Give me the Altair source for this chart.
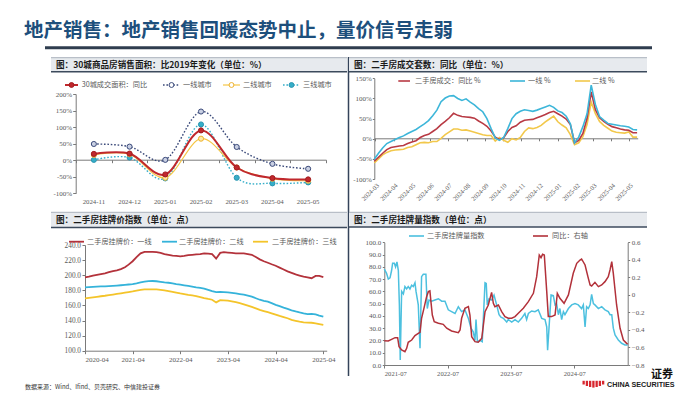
import altair as alt
import pandas as pd

# ---------------- texts ----------------
TITLE = "地产销售：地产销售回暖态势中止，量价信号走弱"
HEAD_TL = "图：30城商品房销售面积：比2019年变化（单位：%）"
HEAD_TR = "图：二手房成交套数：同比（单位：%）"
HEAD_BL = "图：二手房挂牌价指数（单位：点）"
HEAD_BR = "图：二手房挂牌量指数（单位：点）"
SOURCE = "数据来源：Wind、Ifind、贝壳研究、中信建投证券"

# ---------------- panel TL: 30-city sales area vs 2019 (%) ----------------
tl_months = ["2024-11", "2024-12", "2025-01", "2025-02", "2025-03", "2025-04", "2025-05"]
tl_30 = [19, 20, -43, 90, -22, -54, -58]
tl_t1 = [49, 41, 1, 147, 40, -11, -26]
tl_t2 = [16, 18, -53, 65, -22, -56, -62]
tl_t3 = [1, 8, -55, 108, -53, -70, -67]
tl_names = ["30城成交面积：同比", "一线城市", "二线城市", "三线城市"]

# ---------------- panel TR: second-hand deals YoY (%) weekly ----------------
tr_start = "2024-02-28"
tr_all = [-56, -46, -36, -27, -22, -20, -18, -17, -12, -8, -5, 3, 8, 11, 18, 25, 35, 43, 52, 63,
          58, 55, 54, 53, 51, 44, 38, 31, 19, 4, -2, 2, 18, 28, 32, 41, 46, 47, 48, 52,
          56, 60, 65, 68, 62, 56, 49, 35, -10, -4, 13, 50, 116, 72, 52, 43, 36, 30, 27, 24,
          22, 21, 15, 15]
tr_t1 = [-51, -36, -23, -12, -7, -2, 3, 7, 13, 18, 23, 30, 37, 45, 57, 71, 92, 101, 106, 107,
         100, 95, 99, 91, 84, 75, 67, 50, 25, 2, -4, 3, 25, 50, 62, 68, 72, 70, 68, 71,
         75, 79, 83, 78, 69, 65, 56, 37, -10, 4, 30, 62, 133, 85, 55, 46, 38, 36, 34, 32,
         31, 29, 23, 22]
tr_t2 = [-60, -50, -40, -34, -30, -28, -27, -26, -22, -20, -15, -10, -9, -10, -7, -7, 1, 10, 17, 24,
         24, 21, 22, 19, 16, 13, 10, 8, 8, -6, 3, -4, -9, 0, -3, 3, 18, 27, 25, 28,
         33, 42, 49, 56, 42, 34, 27, 10, -15, -10, 5, 35, 91, 62, 43, 33, 26, 19, 16, 15,
         14, 17, 4, 4]
tr_names = ["二手房成交：同比 %", "一线 %", "二线 %"]

# ---------------- panel BL: listing price index, monthly ----------------
bl_start = "2020-04-01"
bl_t1 = [197, 198, 199.5, 200.5, 201.5, 202.5, 204, 205.5, 206.5,
         208, 210.5, 214, 218.5, 224, 229, 231, 231, 231, 230.5, 229.5, 228,
         227, 226, 225.5, 225, 225.5, 226.5, 227, 227.5, 228, 229, 228.5, 228,
         222, 229.5, 230.5, 230, 229.5, 229, 229, 229, 228, 227, 224, 221,
         218.5, 216.5, 214.5, 212.5, 210, 207.5, 205, 203, 201, 199.5, 198, 197,
         196, 199, 199, 197.5]
bl_t2 = [184, 184.3, 184.6, 184.9, 185.1, 185.3, 185.5, 185.8, 186.2,
         186.7, 187.2, 187.7, 188.3, 189.3, 190.5, 191.5, 192.2, 192.3, 192, 191.3, 190.5,
         190, 189.3, 188.3, 187.4, 186.6, 185.8, 185, 184, 183.2, 182.3, 180.6, 179,
         177.5, 178, 177.6, 177.2, 176.5, 175.8, 175, 174.2, 173, 171.5, 169.5, 167.5,
         166, 165, 163, 160.8, 159, 157, 155.3, 153.5, 152, 150.7, 149.5, 148.5,
         148.8, 148, 146.5, 145]
bl_t3 = [169.3, 170, 170.7, 171.4, 172.1, 172.8, 173.6, 174.4, 175.2,
         176, 176.9, 177.7, 178.6, 179.6, 180.5, 181.1, 181.3, 181.3, 181.2, 180.7, 180,
         179, 177.8, 176.8, 175.8, 175, 174, 173.2, 172.3, 171, 169.7, 168.5, 167.5,
         164, 167, 166.6, 166.2, 165.2, 164.2, 163, 161.5, 159.8, 158, 156, 154,
         152.5, 151, 149.5, 147.8, 146, 144.5, 143, 140.8, 139.6, 138.5, 137.6, 137.2,
         137, 136.3, 135.3, 134.2]
bl_names = ["二手房挂牌价：一线", "二手房挂牌价：二线", "二手房挂牌价：三线"]

# ---------------- panel BR: listing volume index + YoY (right axis) ----------------
br_base = "2021-07-01"
br_idx_days = [0, 13, 23, 33, 42, 48, 58, 65, 73, 81, 87, 92, 100, 110, 119, 129, 138, 148, 158, 167,
               177, 183, 196, 206, 215, 225, 240, 248, 258, 273, 292, 312, 331, 350, 369, 388, 408, 427, 446, 465,
               485, 500, 513, 523, 529, 537, 552, 565, 575, 581, 588, 594, 604, 619, 633, 648, 662, 673, 687, 706,
               715, 735, 754, 773, 792, 811, 821, 831, 850, 869, 888, 908, 927, 937, 942, 950, 962, 975, 985, 994,
               1004, 1013, 1023, 1033, 1042, 1062, 1081, 1100, 1119, 1138, 1148, 1158, 1167, 1177, 1187, 1196,
               1206, 1215, 1235, 1254, 1273, 1292, 1302, 1312, 1321, 1331, 1350, 1369, 1388, 1404]
br_idx_vals = [78.2, 74.7, 70, 71, 77, 83, 83, 80, 84, 77, 49, 4, 60, 58, 64, 62, 64, 62, 65, 64,
               67, 60, 49, 13.6, 72, 74, 74, 46, 53, 52, 53, 54, 52, 52, 45, 43.5, 42, 47.5, 43.5, 45,
               38, 30, 27, 20, 37, 19, 20, 19, 49, 67, 66.5, 49, 54, 53, 57, 49, 41, 39, 38, 35,
               37, 35, 37, 35, 38, 42, 37, 42, 44, 43.5, 45, 38, 37, 31, 12, 30, 57, 56.5, 49, 50,
               41, 46, 37, 43.5, 41, 46, 49, 50, 49, 46, 49, 31, 47.5, 46, 49, 57.6,
               50, 49, 46, 47.5, 45, 43.5, 41, 41, 30, 24.5, 20.4, 17.7, 16.3, 16.3]
br_yoy_days = [0, 23, 42, 62, 77, 85, 100, 119, 129, 138, 158, 177, 196, 206, 215, 231, 244, 254, 263, 269,
               277, 288, 312, 340, 360, 388, 427, 437, 446, 465, 485, 494, 504, 523, 542, 562, 581, 600, 619, 629,
               638, 658, 677, 696, 715, 735, 754, 773, 802, 831, 860, 879, 894, 904, 913, 923, 937, 946, 965, 985,
               998, 1013, 1037, 1062, 1090, 1110, 1129, 1138, 1158, 1177, 1187, 1196, 1215, 1235, 1254, 1273,
               1292, 1302, 1312, 1321, 1340, 1360, 1379, 1398, 1404]
br_yoy_vals = [-0.522, -0.526, -0.507, -0.488, -0.488, -0.59, -0.629, -0.648, -0.61, -0.541,
               -0.515, -0.465, -0.44, -0.427, -0.267, -0.134, -0.02, 0.037, 0.045, -0.077,
               -0.23, -0.305, -0.324, -0.336, -0.381, -0.412, -0.431, -0.4, -0.267, -0.153,
               -0.134, -0.23, -0.477, -0.534, -0.541, -0.496, -0.191, -0.115, 0.029, -0.096,
               -0.134, -0.115, -0.191, -0.248, -0.267, -0.267, -0.248, -0.21, -0.153, -0.077,
               0.018, 0.208, 0.455, 0.425, 0.463, 0.455, 0.037, -0.248, -0.248, -0.229,
               0.018, -0.039, -0.096, 0.0, 0.246, 0.36, 0.398, 0.41, 0.341, 0.189,
               0.113, 0.102, 0.143, 0.094, 0.113, 0.151, 0.208, 0.284, 0.379, 0.246,
               -0.115, -0.381, -0.515, -0.553, -0.564]
br_names = ["二手房挂牌量指数", "同比：右轴"]

# ---------------- frames ----------------
tl_df = pd.DataFrame({"month": tl_months, "c30": tl_30, "t1": tl_t1, "t2": tl_t2, "t3": tl_t3})
tr_df = pd.DataFrame({"date": pd.date_range(tr_start, periods=len(tr_all), freq="7D"),
                      "all": tr_all, "t1": tr_t1, "t2": tr_t2})
bl_df = pd.DataFrame({"date": pd.date_range(bl_start, periods=len(bl_t1), freq="MS"),
                      "t1": bl_t1, "t2": bl_t2, "t3": bl_t3})
br_idx = pd.DataFrame({"date": pd.Timestamp(br_base) + pd.to_timedelta(br_idx_days, unit="D"), "v": br_idx_vals})
br_yoy = pd.DataFrame({"date": pd.Timestamp(br_base) + pd.to_timedelta(br_yoy_days, unit="D"), "v": br_yoy_vals})
one = pd.DataFrame({"k": [0]})

# ---------------- styling ----------------
W, H = 684, 386
OFF = 8
CJK = "Noto Sans CJK SC"
SERIF = "Liberation Serif"
GRAY = "#595959"
AXC = "#7a7a7a"


def px(v):
    return v - OFF


def axis(**kw):
    base = dict(grid=False, title=None, labelFont=SERIF, labelFontSize=7, labelColor=GRAY,
                domainColor=AXC, tickColor=AXC, domainWidth=1, tickWidth=1, tickSize=3, labelPadding=1)
    base.update(kw)
    return alt.Axis(**base)


def text(x, y, s, size=7.2, color=GRAY, weight="normal", align="left", font=CJK):
    return alt.Chart(one).mark_text(text=s, fontSize=size, color=color, fontWeight=weight, align=align,
                                    baseline="middle", font=font).encode(x=alt.value(px(x)), y=alt.value(px(y)))


def hrule(x1, x2, y, color, w=1.0, dash=None):
    kw = dict(color=color, strokeWidth=w)
    if dash:
        kw["strokeDash"] = dash
    return alt.Chart(one).mark_rule(**kw).encode(x=alt.value(px(x1)), x2=alt.value(px(x2)), y=alt.value(px(y)))


def vrule(x, y1, y2, color, w=1.0):
    return alt.Chart(one).mark_rule(color=color, strokeWidth=w).encode(
        x=alt.value(px(x)), y=alt.value(px(y1)), y2=alt.value(px(y2)))


def box(x1, y1, x2, y2, color):
    return alt.Chart(one).mark_rect(color=color).encode(
        x=alt.value(px(x1)), x2=alt.value(px(x2)), y=alt.value(px(y1)), y2=alt.value(px(y2)))


def dot(x, y, fill, stroke, size=24):
    return alt.Chart(one).mark_point(shape="circle", filled=True, fill=fill, stroke=stroke, strokeWidth=1,
                                     size=size, opacity=1).encode(x=alt.value(px(x)), y=alt.value(px(y)))


def header(x1, x2, y1, y2, s):
    return [box(x1, y1, x2, y2, "#e7eaee"),
            hrule(x1, x2, y1, "#aab2bc", 1),
            hrule(x1, x2, y2, "#3c4a5c", 1.6),
            text(x1 + 5, (y1 + y2) / 2 + 0.3, s, size=8.6, color="#1a1a1a", weight="bold")]


def dt(y, m, d=1):
    return alt.DateTime(year=y, month=m, date=d)


layers = []

# ---------------- title ----------------
layers.append(text(24, 31, TITLE, size=19.5, color="#1d4f7c", weight="bold"))
layers.append(hrule(45, 652, 47.7, "#2f3d4f", 3))
layers.append(vrule(348.5, 57, 376, "#34435a", 1.5))

# ================= TL =================
layers += header(51, 347, 57.7, 71.7, HEAD_TL)
RED1, NAVY, YEL1, TEAL = "#c0282d", "#3b4a7a", "#f5c646", "#35aec9"
tl_x = alt.X("month:N", sort=tl_months,
             scale=alt.Scale(type="point", domain=tl_months, range=[px(76), px(326)], padding=0.5), axis=None)


def tl_y(field, ax=None):
    return alt.Y(f"{field}:Q", scale=alt.Scale(domain=[-100, 200], range=[px(193.3), px(94)], nice=False, zero=False),
                 axis=ax)


tl_band = alt.Scale(type="band", domain=tl_months, range=[px(76), px(326)], paddingInner=0, paddingOuter=0)
layers.append(alt.Chart(tl_df).mark_point(opacity=0).encode(
    x=alt.X("month:N", sort=tl_months, scale=tl_band,
            axis=axis(orient="bottom", offset=px(159.7) - H, labels=False, tickBand="extent")),
    y=alt.value(0)))
layers.append(alt.Chart(tl_df).mark_point(opacity=0).encode(
    x=alt.X("month:N", sort=tl_months, scale=tl_band,
            axis=axis(orient="bottom", offset=px(193.3) - H, domain=False, ticks=False, labelPadding=5,
                      labelFontSize=6.8, labelAngle=0)),
    y=alt.value(0)))

tl_series = [
    ("t1", NAVY, [1.6, 1.8], 1.4, "#c9d0e3", NAVY),
    ("t3", TEAL, [1.6, 1.8], 1.4, TEAL, "#2a95b0"),
    ("t2", YEL1, None, 1.2, "#fde9a6", "#eeb22f"),
    ("c30", RED1, None, 2.0, RED1, "#a11d22"),
]
first = True
for field, col, dash, w, fill, stroke in tl_series:
    kw = dict(color=col, strokeWidth=w, interpolate="cardinal")
    if dash:
        kw["strokeDash"] = dash
    ax = axis(orient="left", offset=-px(75.7), values=list(range(-100, 201, 50)),
              labelExpr="datum.value + '%'") if first else None
    layers.append(alt.Chart(tl_df).mark_line(**kw).encode(x=tl_x, y=tl_y(field, ax)))
    layers.append(alt.Chart(tl_df).mark_point(shape="circle", filled=True, fill=fill, stroke=stroke, strokeWidth=1,
                                              size=26, opacity=1).encode(x=tl_x, y=tl_y(field)))
    first = False

# TL legend
LY = 85
layers += [hrule(65, 78, LY, RED1, 2), dot(71.5, LY, RED1, "#a11d22"), text(81.7, LY, tl_names[0]),
           hrule(163, 180, LY, NAVY, 1.4, [1.6, 1.8]), dot(171.5, LY, "white", NAVY), text(183, LY, tl_names[1]),
           hrule(223, 240, LY, YEL1, 1.2), dot(231.5, LY, "white", "#eeb22f"), text(243, LY, tl_names[2]),
           hrule(283, 300, LY, TEAL, 1.4, [1.6, 1.8]), dot(291.5, LY, TEAL, "#2a95b0"), text(303, LY, tl_names[3])]

# ================= TR =================
layers += header(349, 647, 57.7, 71.7, HEAD_TR)
RED2, CYAN2, YEL2 = "#b83a44", "#3db6d9", "#f2c84b"
tr_scale_x = alt.Scale(domain=[dt(2024, 2, 28), dt(2025, 5, 15)], range=[px(374.3), px(637.7)])
tr_months = [dt(2024, m) for m in range(3, 13)] + [dt(2025, m) for m in range(1, 6)]
tr_x = alt.X("date:T", scale=tr_scale_x, axis=None)


def tr_y(field, ax=None):
    return alt.Y(f"{field}:Q", scale=alt.Scale(domain=[-100, 150], range=[px(179), px(78.3)], nice=False, zero=False),
                 axis=ax)


layers.append(alt.Chart(tr_df).mark_point(opacity=0).encode(
    x=alt.X("date:T", scale=tr_scale_x,
            axis=axis(orient="bottom", offset=px(138.3) - H, labels=False, values=tr_months, tickSize=2.5)),
    y=alt.value(0)))
layers.append(alt.Chart(tr_df).mark_point(opacity=0).encode(
    x=alt.X("date:T", scale=tr_scale_x,
            axis=axis(orient="bottom", offset=px(180) - H, domain=False, ticks=False, values=tr_months,
                      format="%Y-%m", labelAngle=315, labelFontSize=6.5, labelPadding=2,
                      labelOverlap=False, labelFlush=False)),
    y=alt.value(0)))
for i, (field, col) in enumerate([("t2", YEL2), ("all", RED2), ("t1", CYAN2)]):
    ax = axis(orient="left", offset=-px(374.3), values=list(range(-100, 151, 50)), tickSize=2,
              labelExpr="datum.value + '%'") if i == 0 else None
    layers.append(alt.Chart(tr_df).mark_line(color=col, strokeWidth=1.6).encode(x=tr_x, y=tr_y(field, ax)))

LY = 81
layers += [hrule(398.3, 410, LY, RED2, 1.6), text(415, LY, tr_names[0]),
           hrule(510, 525, LY, CYAN2, 1.6), text(528, LY, tr_names[1]),
           hrule(575, 590, LY, YEL2, 1.6), text(592, LY, tr_names[2])]

# ================= BL =================
layers += header(51, 347, 212.3, 227.5, HEAD_BL)
RED3, CYAN3, YEL3 = "#b3323b", "#35b3da", "#f4c42a"
bl_scale_x = alt.Scale(domain=[dt(2020, 4, 1), dt(2025, 4, 27)], range=[px(85), px(326.7)])
bl_years = [dt(y, 4) for y in range(2020, 2026)]
bl_x = alt.X("date:T", scale=bl_scale_x,
             axis=axis(orient="bottom", offset=px(350.7) - H, values=bl_years, format="%Y-%m", labelPadding=2,
                       labelOverlap=False))


def bl_y(field, ax=None):
    return alt.Y(f"{field}:Q", scale=alt.Scale(domain=[100, 240], range=[px(350.7), px(245)], nice=False, zero=False),
                 axis=ax)


for i, (field, col) in enumerate([("t1", RED3), ("t2", CYAN3), ("t3", YEL3)]):
    ax = axis(orient="left", offset=-px(85), values=list(range(100, 241, 20)), format=".1f",
              labelFontSize=7.3, labelPadding=1.5) if i == 0 else None
    xx = bl_x if i == 0 else alt.X("date:T", scale=bl_scale_x, axis=None)
    layers.append(alt.Chart(bl_df).mark_line(color=col, strokeWidth=1.8).encode(x=xx, y=bl_y(field, ax)))

LY = 241.7
layers += [hrule(69, 84, LY, RED3, 1.8), text(87, LY, bl_names[0]),
           hrule(162, 177, LY, CYAN3, 1.8), text(179, LY, bl_names[1]),
           hrule(253, 268, LY, YEL3, 1.8), text(272, LY, bl_names[2])]

# ================= BR =================
layers += header(349, 647, 212.3, 227, HEAD_BR)
CYAN4, RED4 = "#4cc0df", "#b2313a"
br_scale_x = alt.Scale(domain=[dt(2021, 7, 1), dt(2025, 5, 5)], range=[px(384.3), px(627.7)])
br_years = [dt(y, 7) for y in range(2021, 2025)]
layers.append(alt.Chart(br_idx).mark_line(color=CYAN4, strokeWidth=1.5).encode(
    x=alt.X("date:T", scale=br_scale_x,
            axis=axis(orient="bottom", offset=px(365) - H, values=br_years, format="%Y-%m", labelPadding=2,
                      labelFontSize=6.6, labelOverlap=False)),
    y=alt.Y("v:Q", scale=alt.Scale(domain=[0, 100], range=[px(365), px(242.3)], nice=False, zero=False),
            axis=axis(orient="left", offset=-px(384.3), values=list(range(0, 101, 10)), format=".1f",
                      tickSize=2, labelPadding=1.5))))
layers.append(alt.Chart(br_yoy).mark_line(color=RED4, strokeWidth=1.5).encode(
    x=alt.X("date:T", scale=br_scale_x, axis=None),
    y=alt.Y("v:Q", scale=alt.Scale(domain=[-0.8, 0.6], range=[px(365), px(242.3)], nice=False, zero=False),
            axis=axis(orient="right", offset=px(627.7) - W, values=[-0.8, -0.6, -0.4, -0.2, 0, 0.2, 0.4, 0.6],
                      format=".1~f", tickSize=2, labelPadding=1.5))))

LY = 236
layers += [hrule(409, 424, LY, CYAN4, 1.6), text(427, LY, br_names[0]),
           hrule(533, 548, LY, RED4, 1.6), text(552, LY, br_names[1])]

# ---------------- footer ----------------
layers.append(text(25, 386.7, SOURCE, size=6, color="#333333"))
for i, bottom in enumerate([384.5, 386, 387, 387.6, 387, 386, 384.5]):
    x0 = 582.5 + 3.25 * i
    layers.append(box(x0, 380.8, x0 + 2.3, bottom, "#d7262e"))
layers.append(text(673, 374.5, "证券", size=11, color="#111111", weight="bold", align="right"))
layers.append(text(607, 384.5, "CHINA SECURITIES", size=7.2, color="#222222", weight="bold",
                   font="Liberation Sans"))

chart = alt.layer(*layers).resolve_scale(x="independent", y="independent").properties(
    width=W, height=H, padding=0, autosize=alt.AutoSizeParams(type="none")
).configure_view(strokeWidth=0)

chart.save("out.html", embed_options={"renderer": "svg", "actions": False})
